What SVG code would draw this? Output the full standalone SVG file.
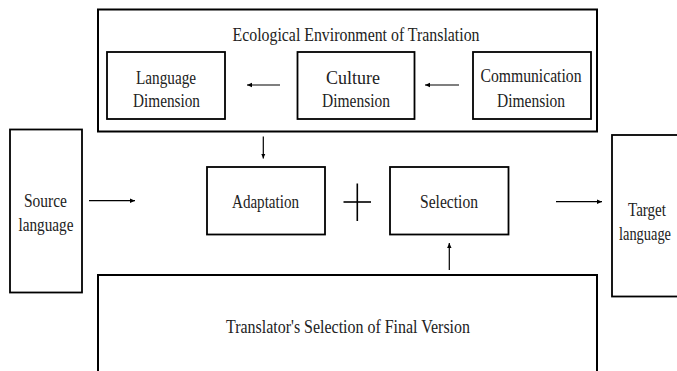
<svg xmlns="http://www.w3.org/2000/svg" width="677" height="371" viewBox="0 0 677 371">
<style>
.box{fill:#fff;stroke:#000;stroke-width:1.8}
.big{fill:none;stroke:#000;stroke-width:2}
.t{font-family:"Liberation Serif",serif;font-size:19px;fill:#222;text-anchor:middle}
.c{stroke:#000;stroke-width:1.2;fill:none}
</style>
<defs>
<marker id="ah" markerUnits="userSpaceOnUse" markerWidth="6" markerHeight="6" refX="5" refY="3" orient="auto">
<path d="M0,0.8 L5,3 L0,5.2 Z" fill="#000"/>
</marker>
</defs>
<rect width="677" height="371" fill="#fff"/>
<g id="ecological-environment">
<rect class="big" x="98" y="9.5" width="499" height="122"/>
<text class="t" x="356" y="40.5" textLength="247" lengthAdjust="spacingAndGlyphs">Ecological Environment of Translation</text>
</g>
<g id="language-dimension">
<rect class="box" x="107" y="52" width="118" height="67"/>
<text class="t" x="166" y="84" textLength="60" lengthAdjust="spacingAndGlyphs">Language</text>
<text class="t" x="166.5" y="107.3" textLength="67" lengthAdjust="spacingAndGlyphs">Dimension</text>
</g>
<g id="culture-dimension">
<rect class="box" x="297.5" y="52" width="117" height="67"/>
<text class="t" x="353" y="84" textLength="54" lengthAdjust="spacingAndGlyphs">Culture</text>
<text class="t" x="356" y="107.3" textLength="68" lengthAdjust="spacingAndGlyphs">Dimension</text>
</g>
<g id="communication-dimension">
<rect class="box" x="473" y="52" width="118" height="67"/>
<text class="t" x="531" y="82" textLength="101" lengthAdjust="spacingAndGlyphs">Communication</text>
<text class="t" x="531" y="107.3" textLength="68" lengthAdjust="spacingAndGlyphs">Dimension</text>
</g>
<g id="source-language">
<rect class="box" x="10" y="129.5" width="72" height="163"/>
<text class="t" x="45.5" y="207" textLength="43" lengthAdjust="spacingAndGlyphs">Source</text>
<text class="t" x="46" y="231" textLength="55" lengthAdjust="spacingAndGlyphs">language</text>
</g>
<g id="adaptation">
<rect class="box" x="207" y="167" width="118" height="67.5"/>
<text class="t" x="265.5" y="208.3" textLength="67" lengthAdjust="spacingAndGlyphs">Adaptation</text>
</g>
<g id="plus">
<line x1="343.5" y1="202" x2="371" y2="202" stroke="#000" stroke-width="1.6"/>
<line x1="357.3" y1="183.5" x2="357.3" y2="221" stroke="#000" stroke-width="1.6"/>
</g>
<g id="selection">
<rect class="box" x="390" y="167" width="118.5" height="67.5"/>
<text class="t" x="449" y="208.3" textLength="58" lengthAdjust="spacingAndGlyphs">Selection</text>
</g>
<g id="target-language">
<rect class="box" x="612" y="135" width="72" height="161.5"/>
<text class="t" x="647" y="216" textLength="38" lengthAdjust="spacingAndGlyphs">Target</text>
<text class="t" x="645" y="239.5" textLength="52" lengthAdjust="spacingAndGlyphs">language</text>
</g>
<g id="translator-selection">
<rect class="big" x="98" y="275" width="499" height="120"/>
<text class="t" x="348" y="332.7" textLength="244" lengthAdjust="spacingAndGlyphs">Translator's Selection of Final Version</text>
</g>
<g id="connectors">
<line class="c" x1="280" y1="85" x2="247" y2="85" marker-end="url(#ah)"/>
<line class="c" x1="459" y1="85" x2="425" y2="85" marker-end="url(#ah)"/>
<line class="c" x1="263.3" y1="136.5" x2="263.3" y2="158.5" marker-end="url(#ah)"/>
<line class="c" x1="89" y1="200.7" x2="135" y2="200.7" marker-end="url(#ah)"/>
<line class="c" x1="449.3" y1="270" x2="449.3" y2="243" marker-end="url(#ah)"/>
<line class="c" x1="556" y1="201.7" x2="602" y2="201.7" marker-end="url(#ah)"/>
</g>
</svg>
